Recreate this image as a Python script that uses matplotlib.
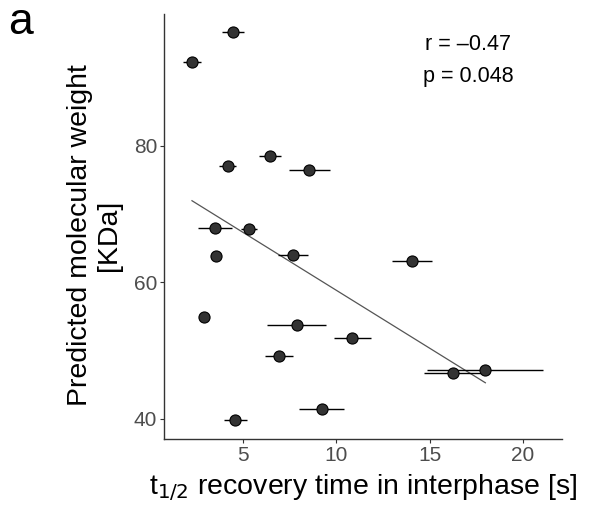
import numpy as np
import matplotlib
matplotlib.use("Agg")
import matplotlib.pyplot as plt

plt.rcParams['font.family'] = ['Liberation Sans', 'DejaVu Sans']

# data
t_half = [2.27, 4.46, 4.19, 6.45, 8.54, 3.50, 5.32, 3.56, 7.69, 14.05,
          2.93, 7.87, 10.85, 6.93, 16.26, 17.98, 9.21, 4.59]
t_err = [0.5, 0.6, 0.45, 0.6, 1.1, 0.9, 0.45, 0.25, 0.8, 1.07,
         0.2, 1.6, 1.0, 0.75, 1.57, 3.1, 1.2, 0.6]
mw = [92.2, 96.6, 77.1, 78.5, 76.5, 67.9, 67.8, 63.9, 64.0, 63.1,
      55.0, 53.8, 51.8, 49.2, 46.8, 47.2, 41.5, 39.8]
xticks = [5, 10, 15, 20]
yticks = [40, 60, 80]
r_text = "r = \u20130.47"
p_text = "p = 0.048"

x = np.array(t_half)
y = np.array(mw)

fig = plt.figure(figsize=(5.89, 5.12), dpi=100)
ax = fig.add_axes([0.2784, 0.1426, 0.954 - 0.2784, 0.9727 - 0.1426])

ax.errorbar(x, y, xerr=t_err, fmt='none', ecolor='black', elinewidth=1.0,
            capsize=0, zorder=2)
slope, intercept = np.polyfit(x, y, 1)
xl = np.array([x.min(), x.max()])
ax.plot(xl, slope * xl + intercept, color='#555555', lw=0.9, zorder=1)
ax.plot(x, y, 'o', ms=8, mfc='#333333', mec='black', mew=0.8, zorder=3)

ax.set_xlim(0.77, 22.08)
ax.set_ylim(37.07, 99.3)
ax.set_xticks(xticks)
ax.set_yticks(yticks)
ax.tick_params(axis='both', labelsize=15, labelcolor='#4D4D4D', color='#333333',
               length=3, width=0.8, pad=2)
for s in ['top', 'right']:
    ax.spines[s].set_visible(False)
for s in ['left', 'bottom']:
    ax.spines[s].set_color('#333333')
    ax.spines[s].set_linewidth(1.0)

ax.set_xlabel("t$_{1/2}$ recovery time in interphase [s]", fontsize=20.5, labelpad=5)
ax.set_ylabel("Predicted molecular weight\n[KDa]", fontsize=20.5,
              linespacing=1.15)
ax.yaxis.set_label_coords(-0.105, 0.48)

ax.text(0.765, 0.929, r_text, transform=ax.transAxes, ha='center', va='center', fontsize=15.5)
ax.text(0.765, 0.854, p_text, transform=ax.transAxes, ha='center', va='center', fontsize=15.5)

fig.text(20 / 589, 1 - 22 / 512, "a", fontsize=32, ha='center', va='center')

fig.savefig("out.png", dpi=100)
